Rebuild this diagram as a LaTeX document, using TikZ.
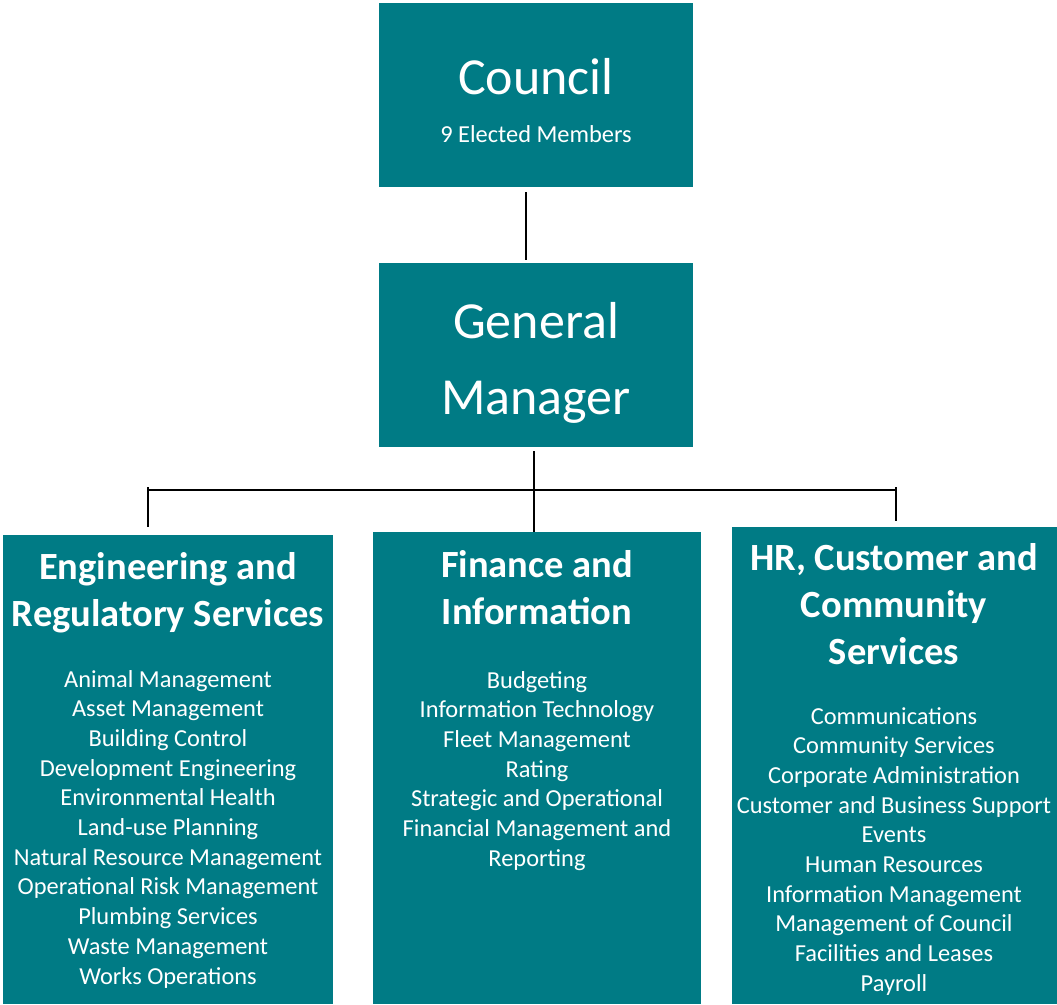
\documentclass[tikz,border=0pt]{standalone}
\usepackage{fontspec}
\setmainfont{Carlito}
\definecolor{orgteal}{RGB}{0,123,133}
\begin{document}
\begin{tikzpicture}[x=1pt,y=-1pt,
  box/.style={fill=orgteal,draw=none,inner sep=0pt,anchor=north west},
  link/.style={draw=black,line width=1.8pt},
  bigtxt/.style={text=white,inner sep=0pt,anchor=base,font=\fontsize{52}{60}\selectfont},
  subtxt/.style={text=white,inner sep=0pt,anchor=base,font=\fontsize{24.4}{29.7}\selectfont},
  headtxt/.style={text=white,inner sep=0pt,anchor=base,font=\fontsize{38.5}{47}\selectfont\bfseries},
  itemtxt/.style={text=white,inner sep=0pt,anchor=base,font=\fontsize{24.4}{29.7}\selectfont}]
\useasboundingbox (0,0) rectangle (1057,1004);

% boxes
\node[box,minimum width=314pt,minimum height=184pt] (council) at (379,3) {};
\node[box,minimum width=314pt,minimum height=184pt] (gm) at (379,263) {};
\node[box,minimum width=330pt,minimum height=469pt] (eng) at (3,535) {};
\node[box,minimum width=328pt,minimum height=472pt] (fin) at (373,532) {};
\node[box,minimum width=325pt,minimum height=477pt] (hr) at (732,527) {};

% top boxes text
\node[bigtxt] (councilname) at (536,94) {Council};
\node[subtxt] (councilmembers) at (536,142) {9 Elected Members};
\node[bigtxt] (gmline1) at (536,338) {General};
\node[bigtxt] (gmline2) at (536,414) {Manager};

% department headings
\node[headtxt] (enghead1) at (168,579) {Engineering and};
\node[headtxt] (enghead2) at (168,626) {Regulatory Services};
\node[headtxt] (finhead1) at (537,577) {Finance and};
\node[headtxt] (finhead2) at (537,624) {Information};
\node[headtxt] (hrhead1) at (894,570) {HR, Customer and};
\node[headtxt] (hrhead2) at (894,617) {Community};
\node[headtxt] (hrhead3) at (894,664) {Services};

% department functions
\foreach \t [count=\i] in {Animal Management, Asset Management, Building Control,
  Development Engineering, Environmental Health, Land-use Planning,
  Natural Resource Management, Operational Risk Management, Plumbing Services,
  Waste Management, Works Operations}
  \node[itemtxt] (engitem\i) at (168,{687+(\i-1)*29.7}) {\t};
\foreach \t [count=\i] in {Budgeting, Information Technology, Fleet Management,
  Rating, Strategic and Operational, Financial Management and, Reporting}
  \node[itemtxt] (finitem\i) at (537,{688+(\i-1)*29.7}) {\t};
\foreach \t [count=\i] in {Communications, Community Services,
  Corporate Administration, Customer and Business Support, Events,
  Human Resources, Information Management, Management of Council,
  Facilities and Leases, Payroll}
  \node[itemtxt] (hritem\i) at (894,{724+(\i-1)*29.7}) {\t};

% connectors
\coordinate (barL) at (148,490);
\coordinate (barR) at (896,490);
\draw[link] ([xshift=-10pt,yshift=-5pt]council.south) -- ([xshift=-10pt,yshift=3pt]gm.north);
\draw[link] ([xshift=-2pt,yshift=-4pt]gm.south) -- ([xshift=-3pt]fin.north);
\draw[link] (barL) -- (barR);
\draw[link] ([yshift=3pt]barL) -- ([yshift=8pt]eng.north -| barL);
\draw[link] ([yshift=3pt]barR) -- ([yshift=6pt]hr.north -| barR);
\end{tikzpicture}
\end{document}
